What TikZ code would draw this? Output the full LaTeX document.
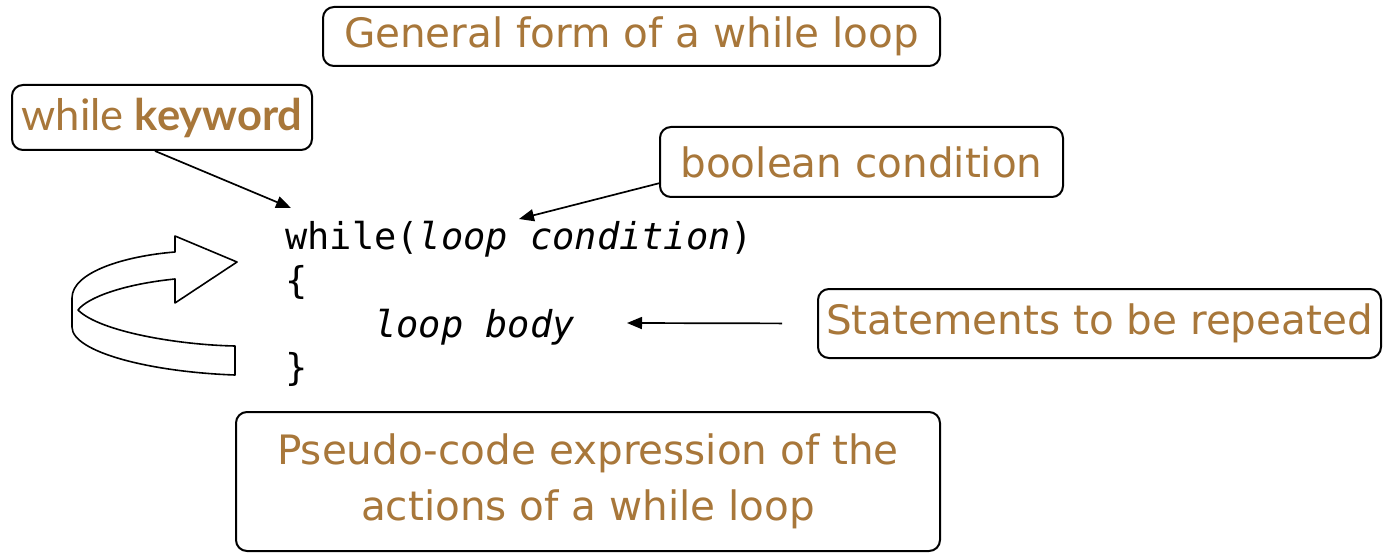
\documentclass[tikz,border=0pt]{standalone}
\usepackage{fontspec}
\setmainfont{DejaVu Sans}
\newfontfamily\latofont{Lato}
\newfontfamily\codefont{DejaVu Sans Mono}
\usetikzlibrary{arrows.meta,calc}
\definecolor{labelbrown}{RGB}{168,119,58}
\tikzset{
  lbl/.style={draw=black, line width=2pt, rounded corners=11pt, fill=white,
    text=labelbrown, font=\fontsize{40.5}{56}\selectfont, inner sep=0pt, align=center},
  code/.style={anchor=base west, inner sep=0pt, font=\codefont\fontsize{37}{44}\selectfont},
  arr/.style={line width=1.7pt, -{Triangle[length=15pt,width=12pt]}},
  ribbon/.style={draw=black, line width=1.6pt, fill=white, line join=round},
}
\begin{document}
\begin{tikzpicture}[x=1pt,y=-1pt]
\useasboundingbox (0,0) rectangle (1383,553);
% labels
\node[lbl, minimum width=617pt, minimum height=59pt] (gen) at (631.5,36.5) {General form of a while loop};
\node[lbl, minimum width=300pt, minimum height=65pt, font=\latofont\fontsize{43.5}{50}\selectfont] (kw) at (162,117.5) {while \textbf{keyword}};
\node[lbl, minimum width=403pt, minimum height=70pt] (bool) at (861.5,162) {boolean condition};
\node[lbl, minimum width=563pt, minimum height=69pt] (stm) at (1099.5,323.5) {Statements to be repeated};
\node[lbl, minimum width=704pt, minimum height=139pt] (pse) at (588,481.5) {Pseudo-code expression of the\\actions of a while loop};
% code
\node[code] (l1) at (285,250) {while(\textit{loop condition})};
\node[code] (l2) at (285,293) {\{};
\node[code] (l3) at (285,337) {\ \ \ \ \textit{loop body}};
\node[code] (l4) at (285,380) {\}};
% connector ends
\coordinate (kwend) at (291,208);
\coordinate (condend) at (519,219);
\coordinate (bodyend) at (627,323);
\draw[arr] ($(kw.south)+(-7,0)$) -- (kwend);
\draw[arr] (bool.186) -- (condend);
\draw[arr, shorten <=35pt] (stm.west) -- (bodyend);
% ribbon arrow
\draw[ribbon] (235,375) .. controls (150,372) and (72,352) .. (72,327)
  -- (72,298) .. controls (72,272) and (125,256) .. (175,252)
  -- (175,236) -- (237,262) -- (175,303) -- (175,279)
  .. controls (125,284) and (88,297) .. (78,310)
  .. controls (100,332) and (180,345) .. (235,346) -- cycle;
\end{tikzpicture}
\end{document}
